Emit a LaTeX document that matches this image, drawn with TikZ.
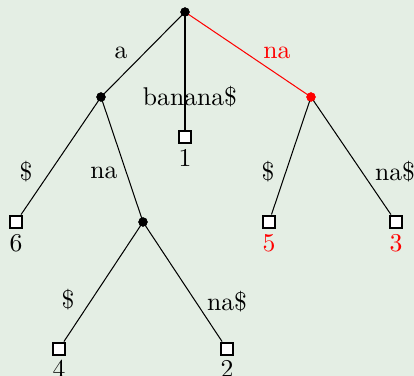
\documentclass[tikz,border=0pt]{standalone}
\definecolor{bgc}{HTML}{E4EEE4}
\begin{document}
\begin{tikzpicture}[x=0.39pt,y=-0.39pt,
  inner/.style={circle,fill=black,inner sep=0pt,minimum size=3.6pt},
  leaf/.style={rectangle,draw=black,fill=white,line width=1pt,inner sep=0pt,minimum size=4.8pt},
  edge/.style={line width=0.4pt},
  lbl/.style={inner sep=0pt,font=\normalsize}]
\fill[bgc] (0,0) rectangle (414,376);
\useasboundingbox (0,0) rectangle (414,376);
\node[inner] (r) at (185,12) {};
\node[inner] (a) at (101,97) {};
\node[inner,fill=red] (n) at (311,97) {};
\node[inner] (an) at (143,222) {};
\node[leaf] (l1) at (185,137) {};
\node[leaf] (l6) at (16,222) {};
\node[leaf] (l5) at (269,222) {};
\node[leaf] (l3) at (396,222) {};
\node[leaf] (l4) at (59,349) {};
\node[leaf] (l2) at (227,349) {};
\draw[edge] (r.center) -- (a.center);
\draw[edge] (r.center) -- (l1);
\draw[edge,red] (r.center) -- (n.center);
\draw[edge] (a.center) -- (l6);
\draw[edge] (a.center) -- (an.center);
\draw[edge] (an.center) -- (l4);
\draw[edge] (an.center) -- (l2);
\draw[edge] (n.center) -- (l5);
\draw[edge] (n.center) -- (l3);
\node[inner] at (r) {};
\node[inner] at (a) {};
\node[inner,fill=red] at (n) {};
\node[inner] at (an) {};
\node[leaf] at (l1) {};
\node[leaf] at (l6) {};
\node[leaf] at (l5) {};
\node[leaf] at (l3) {};
\node[leaf] at (l4) {};
\node[leaf] at (l2) {};
\node[lbl] (t1) at (185,158) {1};
\node[lbl] (t6) at (16,243) {6};
\node[lbl,red] (t5) at (269,243) {5};
\node[lbl,red] (t3) at (396,243) {3};
\node[lbl] (t4) at (59,369) {4};
\node[lbl] (t2) at (227,369) {2};
\node[lbl] (e1) at (121,53) {a};
\node[lbl] (e2) at (190,97) {banana\$};
\node[lbl,red] (e3) at (277,53) {na};
\node[lbl] (e4) at (26,172) {\$};
\node[lbl] (e5) at (104,173) {na};
\node[lbl] (e6) at (268,172) {\$};
\node[lbl] (e7) at (395,172) {na\$};
\node[lbl] (e8) at (68,300) {\$};
\node[lbl] (e9) at (227,302) {na\$};
\end{tikzpicture}
\end{document}
